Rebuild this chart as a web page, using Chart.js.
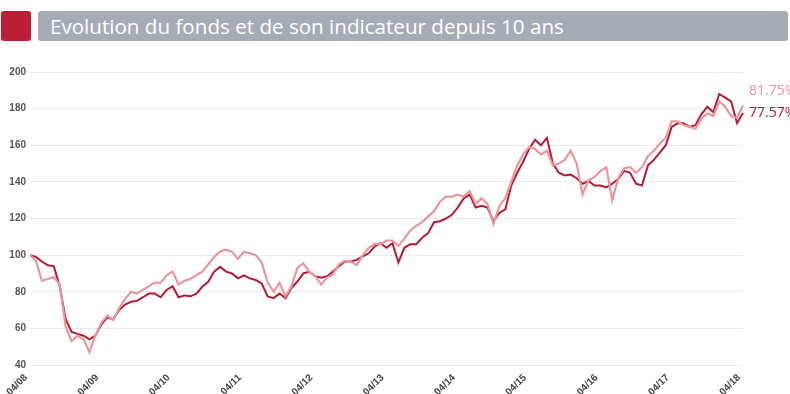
<!DOCTYPE html>
<html>
<head>
<meta charset="utf-8">
<script src="https://cdn.jsdelivr.net/npm/chart.js@4.4.1/dist/chart.umd.min.js"></script>
<style>
  body { margin: 0; width: 790px; height: 394px; overflow: hidden; background: #fff; }
  #puce { position: absolute; left: 1px; top: 11px; width: 30px; height: 30px; background: #bb1e36; border-radius: 3px; }
  #titre { position: absolute; left: 38px; top: 11px; width: 750px; height: 30px; background: #a6acb6; border-radius: 3px;
           color: #fff; font: 20.6px "Open Sans", sans-serif; line-height: 30px; padding-left: 12px; box-sizing: border-box; white-space: nowrap; }
  #zone { position: absolute; left: 0; top: 50px; width: 790px; height: 344px; }
</style>
</head>
<body>
<div id="puce"></div>
<div id="titre">Evolution du fonds et de son indicateur depuis 10 ans</div>
<div id="zone"><canvas id="myChart"></canvas></div>
<script>
// Base 100 in April 2008, one value per month up to April 2018

const tickLabels = ["04/08", "04/09", "04/10", "04/11", "04/12", "04/13", "04/14", "04/15", "04/16", "04/17", "04/18"]

const indexValues = [
  100, 97, 86, 87, 88, 84, 61, 53, 56, 54, 47, 56,
  63, 67, 64.5, 71, 76, 80, 79, 81, 83, 85, 85, 89,
  91, 84, 86, 87, 89, 91, 95, 99, 102, 103, 101.8, 98,
  101.8, 101, 100, 96, 85, 80, 85, 77.5, 83, 93, 95.5, 91,
  88.5, 84, 87.7, 89.5, 95, 97, 96.5, 94.5, 100, 104, 106, 106,
  108, 108, 105, 109, 113.5, 116, 118, 121, 124, 129, 132, 132,
  133, 132, 135, 128, 131, 128, 117, 127, 131, 140, 149, 155,
  159, 158, 155, 157, 149, 150, 152, 157, 150, 133, 141, 142.6,
  146, 148, 130, 142, 147.5, 148, 145, 148, 154, 157, 161, 164,
  173, 173, 171, 170, 169, 174.5, 177.5, 176, 184, 181, 176, 175,
  181.75
]

const fundValues = [
  100, 99, 96.5, 94.5, 94, 83, 65, 58, 57, 56, 54, 56,
  62, 66, 65, 70, 73, 74.5, 75, 77, 79, 79, 77, 81,
  83, 77, 78, 77.5, 79, 82.7, 85.4, 91, 93.6, 91, 90, 87.3,
  89, 87.3, 86.4, 84.5, 77.4, 76.5, 79, 76.5, 82, 85.6, 90, 91,
  88.5, 87.6, 88.5, 91, 94, 96.5, 96.5, 97.4, 99.3, 101, 104.7, 106.5,
  104, 106.5, 96, 104, 106, 106, 109.5, 112, 118, 118.5, 120, 122,
  126, 131, 133, 126, 127, 126, 118.5, 123, 125, 138, 145, 151,
  158, 163, 160, 164, 150, 145, 143.5, 144, 142, 139, 140.5, 138,
  138, 137, 139, 141.5, 146, 145, 139, 138, 149, 152, 156, 160,
  170, 172, 172, 170, 171, 177, 181, 178, 188, 186, 184, 172,
  177.57
]

// month labels "MM/YY" for the category axis
const months = [];
for (let i = 0; i < fundValues.length; i++) {
    const m = (3 + i) % 12 + 1;
    const y = 8 + Math.floor((3 + i) / 12);
    months.push(String(m).padStart(2, "0") + "/" + String(y).padStart(2, "0"));
}

const colorIndex = "#e8989b";
const colorFund = "#b71a37";

// performance labels written right of the last point
const endLabels = {
    id: "endLabels",
    afterDatasetsDraw(chart) {
        const ctx = chart.ctx;
        const area = chart.chartArea;
        const items = chart.data.datasets.map((ds, i) => {
            const meta = chart.getDatasetMeta(i);
            const last = ds.data.length - 1;
            return { y: meta.data[last].y, text: (ds.data[last] - 100).toFixed(2) + "%", color: ds.borderColor };
        });
        items.sort((a, b) => b.y - a.y);
        for (let i = 1; i < items.length; i++) {
            if (items[i - 1].y - items[i].y < 22) items[i].y = items[i - 1].y - 22;
        }
        ctx.save();
        ctx.font = "14px 'Open Sans'";
        ctx.textBaseline = "middle";
        ctx.textAlign = "left";
        items.forEach(it => {
            ctx.fillStyle = it.color;
            ctx.fillText(it.text, area.right + 6, it.y);
        });
        ctx.restore();
    }
};

// yearly ticks, slanted at 45 degrees under the axis
const yearTicks = {
    id: "yearTicks",
    afterDraw(chart) {
        const ctx = chart.ctx;
        const xs = chart.scales.x;
        const bottom = chart.chartArea.bottom;
        ctx.save();
        ctx.font = "bold 10px 'Liberation Sans'";
        ctx.fillStyle = "#444";
        ctx.textAlign = "right";
        ctx.textBaseline = "middle";
        tickLabels.forEach((t, i) => {
            const x = xs.getPixelForValue(i * 12);
            ctx.save();
            ctx.translate(x - 4, bottom + 11);
            ctx.rotate(-Math.PI / 4);
            ctx.fillText(t, 0, 0);
            ctx.restore();
        });
        ctx.restore();
    }
};

const data = {
    labels: months,
    datasets: [{
        label: "Indicateur",
        data: indexValues,
        borderColor: colorIndex,
        borderWidth: 2.2,
        pointRadius: 0,
        tension: 0,
    }, {
        label: "Fonds",
        data: fundValues,
        borderColor: colorFund,
        borderWidth: 2,
        pointRadius: 0,
        tension: 0,
    }]
}

const config = {
    type: "line",
    data: data,
    plugins: [endLabels, yearTicks],
    options: {
        animation: false,
        responsive: true,
        maintainAspectRatio: false,
        layout: { padding: { top: 22, right: 47, left: 0, bottom: 0 } },
        plugins: {
            legend: { display: false },
            tooltip: { enabled: false }
        },
        scales: {
            x: {
                afterFit(scale) { scale.height = 29; },
                grid: { display: false, drawTicks: false },
                border: { display: false },
                ticks: { display: false }
            },
            y: {
                min: 40,
                max: 200,
                afterFit(scale) { scale.width = 30; },
                grid: { color: "#ebebeb", lineWidth: 1, drawTicks: false },
                border: { display: false },
                ticks: {
                    stepSize: 20,
                    padding: 4,
                    color: "#555",
                    font: { family: "'Liberation Sans'", size: 10, weight: "bold" }
                }
            }
        }
    }
}

const ctx = document.querySelector("#myChart");
let myChart = new Chart(ctx, config);
</script>
</body>
</html>
